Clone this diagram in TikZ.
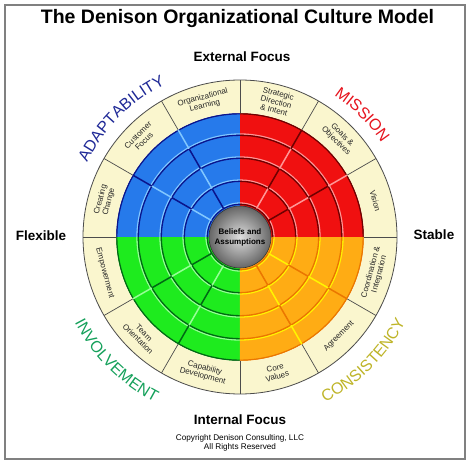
\documentclass[tikz,border=0pt]{standalone}
\usepackage{fontspec}
\setmainfont{Liberation Sans}
\usetikzlibrary{positioning, decorations.text}

\definecolor{ringbeige}{RGB}{250,246,206}
\definecolor{redbase}{RGB}{240,16,16}
\definecolor{reddark}{RGB}{110,0,0}
\definecolor{redlight}{RGB}{255,150,150}
\definecolor{bluebase}{RGB}{38,122,235}
\definecolor{bluedark}{RGB}{10,20,140}
\definecolor{bluelight}{RGB}{130,200,255}
\definecolor{greenbase}{RGB}{30,235,30}
\definecolor{greendark}{RGB}{0,105,20}
\definecolor{greenlight}{RGB}{150,255,150}
\definecolor{orangebase}{RGB}{255,172,20}
\definecolor{orangedark}{RGB}{235,118,0}
\definecolor{orangelight}{RGB}{255,245,0}
\definecolor{adapttext}{RGB}{30,40,150}
\definecolor{missiontext}{RGB}{230,20,30}
\definecolor{involvetext}{RGB}{20,160,90}
\definecolor{consisttext}{RGB}{190,180,40}

\newcommand{\ringfont}{\fontsize{16}{16}\selectfont}

\begin{document}
\begin{tikzpicture}[
  x=1pt, y=1pt,
  title/.style={font=\fontsize{19.5}{20}\selectfont\bfseries},
  axis/.style={font=\fontsize{13.5}{14}\selectfont\bfseries},
  sector/.style={font=\fontsize{8}{8.6}\selectfont, align=center, inner sep=0pt, text=black!85},
  core/.style={font=\fontsize{8}{10}\selectfont\bfseries, align=center, inner sep=0pt},
  note/.style={font=\fontsize{8.2}{8.5}\selectfont, align=center, inner sep=0pt},
  ringtext/.style={decorate, decoration={text along path, text align=center}},
]
  \useasboundingbox (-240,-232) rectangle (229,237);
  % frame
  \draw[gray, line width=1.2] (-235,-222) rectangle (225,232);
  % coloured quadrants
  \foreach \q/\base/\dark/\light in {0/redbase/reddark/redlight, 90/bluebase/bluedark/bluelight,
      180/greenbase/greendark/greenlight, 270/orangebase/orangedark/orangelight} {
    \fill[fill=\base] (0,0) -- (\q:124) arc[start angle=\q, delta angle=90, radius=124] -- cycle;
    \foreach \r in {33,56,79,102} {
      \draw[draw=\light, line width=1.3] ({\q}:{\r+1}) arc[start angle=\q, delta angle=90, radius=\r+1];
      \draw[draw=\dark, line width=1.3] ({\q}:{\r-0.3}) arc[start angle=\q, delta angle=90, radius=\r-0.3];
    }
    \draw[draw=\dark, line width=1.5] ({\q}:123.3) arc[start angle=\q, delta angle=90, radius=123.3];
    % spokes, alternating shade
    \foreach \a [count=\i] in {30,60} {
      \foreach \ra/\rb [count=\k] in {33/56, 56/79, 79/102, 102/124} {
        \pgfmathtruncatemacro{\s}{\i+\k}
        \ifodd\s \edef\col{\light}\else\edef\col{\dark}\fi
        \draw[draw=\col, line width=1.5] ({\q+\a}:\ra) -- ({\q+\a}:\rb);
      }
    }
  }
  % centre ball
  \shade[inner color=gray!25, outer color=gray!80!black] (0,0) circle[radius=31];
  \draw[gray!40!black, line width=0.6] (0,0) circle[radius=31];
  \node[core] (beliefs) at (0,0) {Beliefs and\\Assumptions};
  % outer ring
  \fill[ringbeige, even odd rule] (0,0) circle[radius=157] circle[radius=124];
  \draw[gray!60!black, line width=0.8] (0,0) circle[radius=157];
  \foreach \a in {0,30,...,330} \draw[black!70, line width=0.7] (\a:124) -- (\a:157);
  % trait labels
  \foreach \a/\txt in {15/Vision, 45/{Goals \&\\Objectives}, 75/{Strategic\\Direction\\\& Intent},
      105/{Organizational\\Learning}, 135/{Customer\\Focus}, 165/{Creating\\Change},
      195/Empowerment, 225/{Team\\Orientation}, 255/{Capability\\Development},
      285/{Core\\Values}, 315/Agreement, 345/{Coordination \&\\Integration}} {
    \pgfmathsetmacro{\rot}{\a<180 ? \a-90 : \a+90}
    \node[sector, rotate=\rot] (trait-\a) at (\a:140) {\txt};
  }
  % culture traits around the circle
  \path[ringtext, decoration={text={|\ringfont|ADAPTABILITY}, text color=adapttext}]
    (170:170) arc[start angle=170, end angle=100, radius=170];
  \path[ringtext, decoration={text={|\ringfont|MISSION}, text color=missiontext}]
    (80:170) arc[start angle=80, end angle=10, radius=170];
  \path[ringtext, decoration={text={|\ringfont|INVOLVEMENT}, text color=involvetext}]
    (190:186) arc[start angle=190, end angle=260, radius=186];
  \path[ringtext, decoration={text={|\ringfont|CONSISTENCY}, text color=consisttext}]
    (280:186) arc[start angle=280, end angle=350, radius=186];
  % titles and axes
  \node[title] (head) at (-2.5,218) {The Denison Organizational Culture Model};
  \node[axis] (external) at (2,180) {External Focus};
  \node[axis] (internal) at (0,-183) {Internal Focus};
  \node[axis] (flexible) at (-199,1) {Flexible};
  \node[axis] (stable) at (194,2) {Stable};
  \node[note] (copy) at (0,-206) {Copyright Denison Consulting, LLC\\All Rights Reserved};
\end{tikzpicture}
\end{document}
